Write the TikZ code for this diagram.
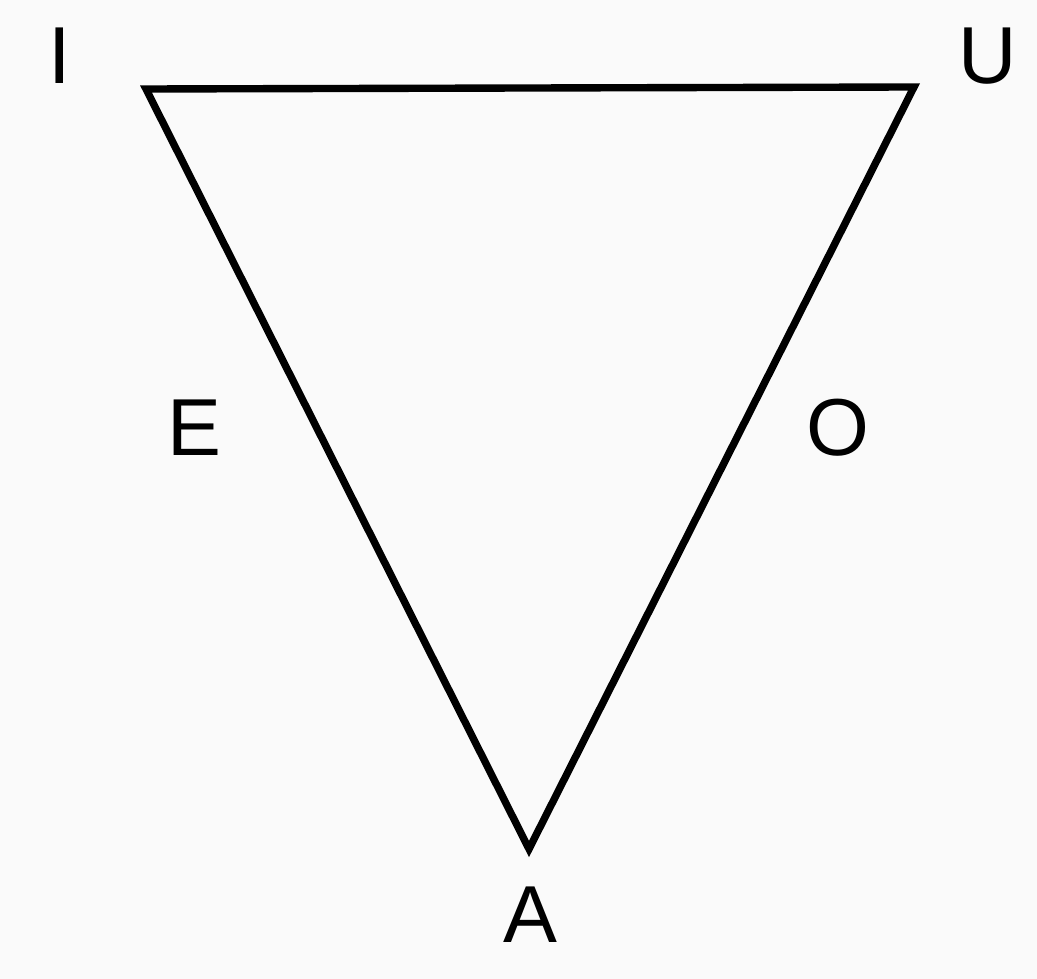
\documentclass[tikz,border=0pt]{standalone}
\usepackage{fontspec}
\setmainfont{Liberation Sans}
\definecolor{paper}{HTML}{FAFAFA}
\usetikzlibrary{positioning}

\begin{document}
\begin{tikzpicture}[x=0.02cm,y=-0.02cm]
  \tikzset{
    vowel/.style={font=\fontsize{46}{50}\selectfont,inner sep=0pt},
    edge/.style={line width=4.2pt,line join=miter}
  }
  % Background
  \fill[paper] (0,0) rectangle (1037,979);
  \useasboundingbox (0,0) rectangle (1037,979);

  % Corners
  \coordinate (cI) at (146,89);
  \coordinate (cU) at (914,87);
  \coordinate (cA) at (529,849);

  % Triangle
  \draw[edge] (cI) -- (cU) -- (cA) -- cycle;

  % Labels
  \node[vowel] (lI) at (60,56) {I};
  \node[vowel] (lU) at (988,56) {U};
  \node[vowel] (lE) at (194,428) {E};
  \node[vowel] (lO) at (838,428) {O};
  \node[vowel] (lA) at (530,915) {A};
\end{tikzpicture}
\end{document}
